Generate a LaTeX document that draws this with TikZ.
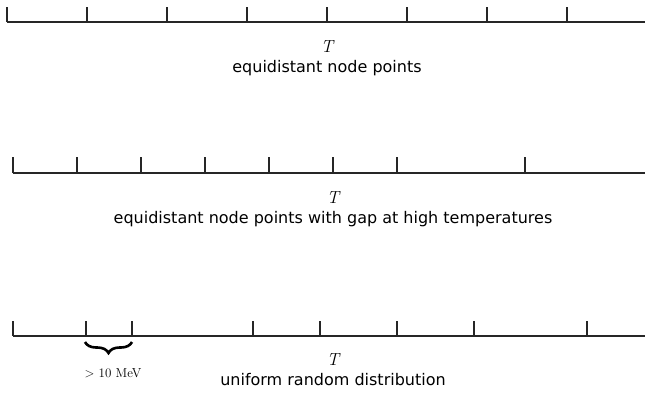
\documentclass[tikz,border=0pt]{standalone}
\usepackage{fontspec}
\setsansfont{DejaVu Sans}
\usepackage{tikz}
\usetikzlibrary{positioning, decorations.pathreplacing}

\begin{document}
\begin{tikzpicture}[
  x=1pt, y=-1pt,
  axis/.style={draw=black!85, line width=1.2pt},
  varT/.style={font=\itshape\fontsize{17.5}{20}\selectfont, inner sep=0pt},
  capt/.style={font=\sffamily\fontsize{16}{19}\selectfont, inner sep=0pt, text height=12pt, text depth=4pt},
  gapbrace/.style={decorate, decoration={brace, mirror, amplitude=11pt}, line width=2.6pt}
]
  \useasboundingbox (0,0) rectangle (645,394);
  % equidistant
  \draw[axis] (645,22) -- (7,22);
  \foreach \x in {7,87,...,567} \draw[axis] (\x,22) -- (\x,7);
  \node[varT] (t1) at (327,47) {T};
  \node[capt, below=7pt of t1] (c1) {equidistant node points};
  % gap at high T
  \draw[axis] (645,173) -- (13,173);
  \foreach \x in {13,77,141,205,269,333,397,525} \draw[axis] (\x,173) -- (\x,157);
  \node[varT] (t2) at (333,198) {T};
  \node[capt, below=7pt of t2] (c2) {equidistant node points with gap at high temperatures};
  % random
  \draw[axis] (645,336) -- (13,336);
  \foreach \x in {13,86,132,253,320,397,474,587} \draw[axis] (\x,336) -- (\x,321);
  \node[varT] (t3) at (333,360) {T};
  \node[capt, below=7pt of t3] (c3) {uniform random distribution};
  \coordinate (g1) at (85,342);
  \coordinate (g2) at (132,342);
  \draw[gapbrace] (g1) -- (g2);
  \node[font=\fontsize{13}{15}\selectfont, inner sep=0pt] (gap) at (113,373) {> 10 MeV};
\end{tikzpicture}
\end{document}
